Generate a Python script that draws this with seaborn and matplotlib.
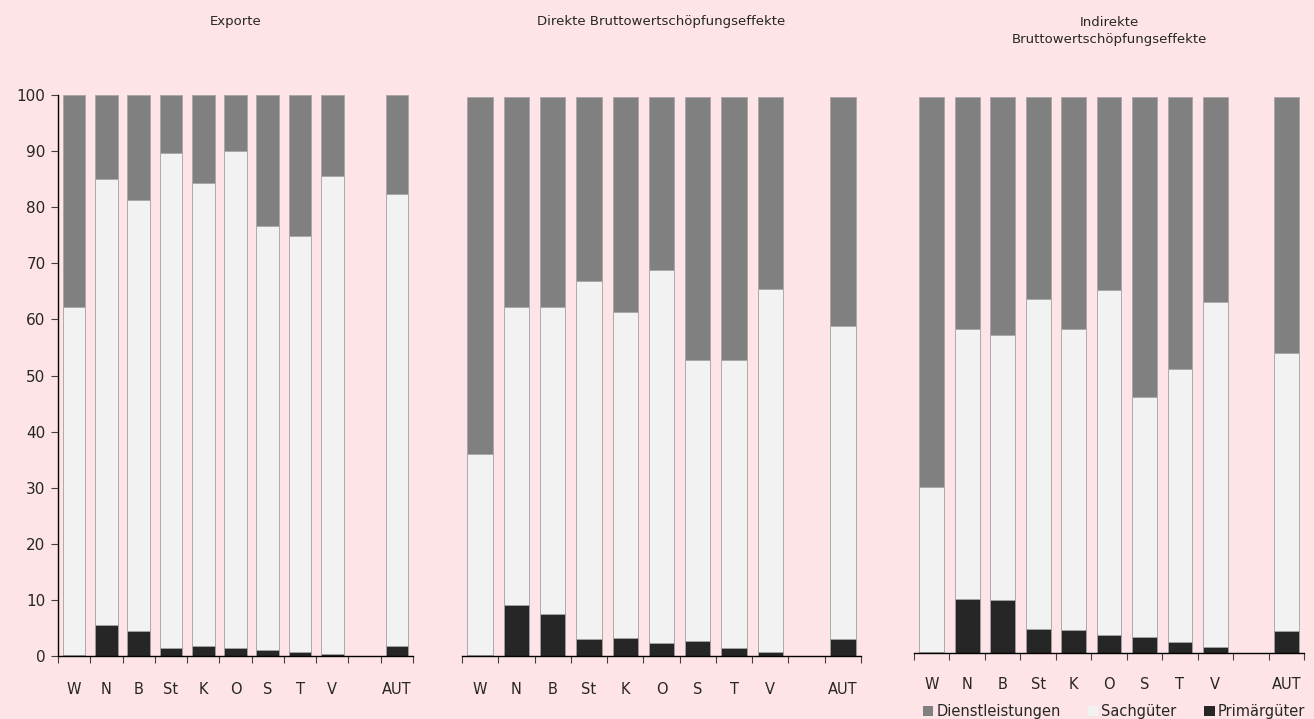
import numpy as np
import pandas as pd
import matplotlib
matplotlib.use("Agg")
import matplotlib.pyplot as plt
import seaborn as sns
from matplotlib.patches import Patch

# Regions (the empty slot separates the provinces from Austria as a whole)
regions = ["W", "N", "B", "St", "K", "O", "S", "T", "V", "AUT"]
slot_order = ["W", "N", "B", "St", "K", "O", "S", "T", "V", "", "AUT"]

# Shares in percent: Primärgüter and Sachgüter (Dienstleistungen = remainder to 100)
exp_primaer = [0.2, 5.6, 4.4, 1.5, 1.7, 1.5, 1.1, 0.8, 0.4, 1.8]
exp_sach    = [62.0, 79.4, 76.8, 88.2, 82.7, 88.5, 75.5, 74.1, 85.2, 80.5]

dir_primaer = [0.2, 9.1, 7.6, 3.1, 3.2, 2.4, 2.6, 1.5, 0.8, 3.1]
dir_sach    = [36.0, 53.4, 54.9, 63.9, 58.3, 66.6, 50.4, 51.5, 64.9, 55.9]

ind_primaer = [0.1, 9.8, 9.6, 4.4, 4.2, 3.3, 2.8, 2.0, 1.1, 3.9]
ind_sach    = [29.8, 48.5, 47.6, 59.2, 54.1, 62.0, 43.2, 49.1, 62.1, 50.1]

titles = ["Exporte", "Direkte Bruttowertschöpfungseffekte",
          "Indirekte\nBruttowertschöpfungseffekte"]

c_dienst = "#808080"
c_sach = "#f2f2f2"
c_prim = "#262626"
c_edge = "#a6a6a6"
bg = "#fee4e6"

sns.set_theme(style="white")
plt.rcParams["font.family"] = ["DejaVu Sans"]

fig = plt.figure(figsize=(13.14, 7.19), dpi=100, facecolor=bg)
boxes = [
    [58 / 1314, 1 - 656 / 719, (413 - 58) / 1314, (656 - 95) / 719],
    [462 / 1314, 1 - 656 / 719, (861 - 462) / 1314, (656 - 97) / 719],
    [914 / 1314, 1 - 653 / 719, (1304 - 914) / 1314, (653 - 97) / 719],
]
title_y = [1 - 21 / 719, 1 - 21 / 719, 1 - 31 / 719]
label_pad = [19, 19, 17]

panels = [(exp_primaer, exp_sach), (dir_primaer, dir_sach), (ind_primaer, ind_sach)]

for i, ((prim, sach), box) in enumerate(zip(panels, boxes)):
    ax = fig.add_axes(box)
    ax.set_facecolor(bg)
    df = pd.DataFrame({"Region": regions, "prim": prim, "sach": sach})
    df["total"] = 100.0
    df["sach_top"] = df["prim"] + df["sach"]

    kw = dict(x="Region", order=slot_order, width=0.7, ax=ax,
              edgecolor=c_edge, linewidth=0.6, errorbar=None, saturation=1)
    sns.barplot(data=df, y="total", color=c_dienst, **kw)
    sns.barplot(data=df, y="sach_top", color=c_sach, **kw)
    sns.barplot(data=df, y="prim", color=c_prim, **kw)

    ax.set_xlim(-0.5, len(slot_order) - 0.5)
    ax.set_ylim(0, 100)
    ax.set_xlabel("")
    ax.set_ylabel("")

    # category labels centred, tick marks at slot boundaries
    ax.set_xticks(range(len(slot_order)))
    ax.set_xticklabels(slot_order, fontsize=10.5, color="#262626")
    ax.set_xticks(np.arange(-0.5, len(slot_order), 1.0), minor=True)
    ax.tick_params(axis="x", which="major", length=0, pad=label_pad[i])
    ax.tick_params(axis="x", which="minor", length=5, width=0.8,
                   color="#404040", direction="out", bottom=True)

    for s in ["top", "right"]:
        ax.spines[s].set_visible(False)
    ax.spines["bottom"].set_color("black")
    ax.spines["bottom"].set_linewidth(1.0)

    if i == 0:
        ax.set_yticks(np.arange(0, 101, 10))
        ax.tick_params(axis="y", length=5, width=0.8, color="#404040",
                       direction="out", left=True, labelsize=11,
                       labelcolor="#262626", pad=4)
        ax.spines["left"].set_color("black")
        ax.spines["left"].set_linewidth(1.0)
    else:
        ax.set_yticks([])
        ax.spines["left"].set_visible(False)

    cx = box[0] + box[2] / 2
    fig.text(cx, title_y[i], titles[i], ha="center", va="center",
             fontsize=9.5, color="#262626", linespacing=1.5)

handles = [Patch(facecolor=c_dienst, edgecolor="none", label="Dienstleistungen"),
           Patch(facecolor=c_sach, edgecolor="none", label="Sachgüter"),
           Patch(facecolor=c_prim, edgecolor="none", label="Primärgüter")]
fig.legend(handles=handles, loc="lower right", bbox_to_anchor=(1.003, -0.018),
           ncol=3, frameon=False, fontsize=10.5, handlelength=0.7,
           handleheight=0.7, handletextpad=0.2, columnspacing=1.9,
           labelcolor="#262626")

fig.savefig("out.png", dpi=100, facecolor=bg)
